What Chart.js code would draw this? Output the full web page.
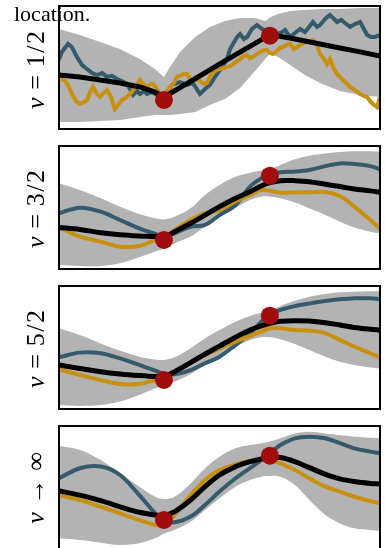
<!DOCTYPE html>
<html>
<head>
<meta charset="utf-8">
<script src="https://cdn.jsdelivr.net/npm/chart.js@4.4.1/dist/chart.umd.min.js"></script>
<style>
  html, body { margin: 0; padding: 0; background: #fff; overflow: hidden; }
  #wrap { position: relative; width: 385px; height: 548px; }
  canvas { position: absolute; left: 0; }
  .caption {
    position: absolute; left: 14px; top: 3px;
    font: 22px/22px "Liberation Serif", serif; color: #000; white-space: nowrap;
  }
  .ylab {
    position: absolute; left: 36px;
    font: 26px/26px "Liberation Serif", serif; color: #000; white-space: nowrap;
    transform: translate(-50%, -50%) rotate(-90deg);
  }
  .ylab .op { margin: 0 0.3em; }
  .ylab .sl { margin: 0 0.06em; }
</style>
</head>
<body>
<div id="wrap">
  <canvas id="nu12" width="385" height="135" style="top:0px"></canvas>
  <canvas id="nu32" width="385" height="135" style="top:140px"></canvas>
  <canvas id="nu52" width="385" height="135" style="top:280px"></canvas>
  <canvas id="nuInf" width="385" height="135" style="top:420px"></canvas>
  <div class="caption">location.</div>
  <div class="ylab" style="top:70px"><i>ν</i><span class="op">=</span>1<span class="sl">/</span>2</div>
  <div class="ylab" style="top:209px"><i>ν</i><span class="op">=</span>3<span class="sl">/</span>2</div>
  <div class="ylab" style="top:349px"><i>ν</i><span class="op">=</span>5<span class="sl">/</span>2</div>
  <div class="ylab" style="top:488px"><i>ν</i><span class="op">→</span>∞</div>
</div>
<script>
// observations (same in every panel)
const obsX = [0.327, 0.657]
const obsY = [-1.58, 1.55]

// shared x grid for the smooth kernels
const xGrid = [0, 0.065, 0.13, 0.19, 0.25, 0.30, 0.327, 0.36, 0.41, 0.455, 0.50, 0.55, 0.595, 0.63, 0.657, 0.69, 0.735, 0.78, 0.83, 0.875, 0.92, 0.97, 1]

// nu = 1/2 (rough samples, own grids)
const xBand12 = [0, 0.065, 0.128, 0.19, 0.252, 0.299, 0.327, 0.346, 0.377, 0.424, 0.47, 0.517, 0.564, 0.611, 0.642, 0.66, 0.682, 0.72, 0.766, 0.813, 0.875, 0.938, 1]
const mean12  = [-0.37, -0.46, -0.61, -0.76, -0.95, -1.20, -1.44, -1.27, -0.98, -0.55, -0.12, 0.32, 0.75, 1.18, 1.46, 1.63, 1.54, 1.44, 1.29, 1.15, 0.95, 0.76, 0.56]
const upper12 = [1.88, 1.59, 1.24, 0.90, 0.41, -0.07, -0.46, 0.02, 0.76, 1.49, 1.98, 2.27, 2.41, 2.41, 2.27, 2.46, 2.61, 2.76, 2.80, 2.85, 2.85, 2.90, 2.90]
const lower12 = [-2.66, -2.66, -2.61, -2.56, -2.41, -2.32, -2.32, -2.32, -2.27, -2.17, -1.83, -1.54, -1.00, -0.17, 0.41, 0.71, 0.51, 0.12, -0.37, -0.76, -1.15, -1.34, -1.44]
const blueX12 = [0, 0.009, 0.028, 0.040, 0.056, 0.072, 0.087, 0.103, 0.118, 0.134, 0.150, 0.165, 0.181, 0.196, 0.212, 0.221, 0.231, 0.243, 0.252, 0.265, 0.274, 0.290, 0.305, 0.321, 0.336, 0.352, 0.377, 0.399, 0.417, 0.439, 0.455, 0.470, 0.486, 0.508, 0.523, 0.533, 0.542, 0.555, 0.564, 0.576, 0.586, 0.601, 0.617, 0.632, 0.648, 0.664, 0.679, 0.695, 0.704, 0.720, 0.735, 0.751, 0.766, 0.779, 0.791, 0.804, 0.813, 0.829, 0.844, 0.857, 0.866, 0.879, 0.891, 0.907, 0.922, 0.938, 0.950, 0.960, 0.972, 0.984, 1]
const blue12  = [0.37, 0.76, 1.15, 1.00, 0.51, 0.12, -0.07, -0.27, -0.37, -0.27, -0.46, -0.41, -0.56, -0.66, -0.80, -1.05, -1.34, -1.15, -1.29, -1.15, -1.29, -1.20, -1.34, -1.44, -1.20, -0.85, -0.71, -0.85, -0.76, -1.29, -1.05, -0.85, -0.46, 0.02, 0.41, 0.90, 1.15, 1.49, 1.63, 1.39, 1.49, 1.88, 2.07, 1.88, 1.78, 1.68, 1.63, 1.73, 1.83, 1.49, 1.68, 1.88, 1.73, 1.98, 2.22, 1.98, 2.07, 2.37, 2.56, 2.37, 2.22, 2.32, 2.17, 1.98, 2.12, 2.22, 1.88, 1.59, 1.49, 1.49, 1.59]
const goldX12 = [0, 0.016, 0.028, 0.040, 0.053, 0.065, 0.078, 0.087, 0.097, 0.106, 0.118, 0.128, 0.140, 0.150, 0.162, 0.174, 0.184, 0.196, 0.212, 0.221, 0.231, 0.243, 0.252, 0.265, 0.274, 0.283, 0.293, 0.305, 0.321, 0.336, 0.346, 0.358, 0.368, 0.377, 0.389, 0.399, 0.408, 0.417, 0.430, 0.439, 0.452, 0.461, 0.470, 0.480, 0.492, 0.502, 0.514, 0.523, 0.533, 0.542, 0.555, 0.564, 0.576, 0.586, 0.595, 0.604, 0.617, 0.626, 0.639, 0.648, 0.657, 0.667, 0.679, 0.688, 0.698, 0.710, 0.720, 0.732, 0.741, 0.751, 0.763, 0.773, 0.782, 0.791, 0.804, 0.813, 0.826, 0.835, 0.844, 0.854, 0.866, 0.875, 0.885, 0.897, 0.907, 0.922, 0.938, 0.950, 0.960, 0.969, 0.978, 0.991, 1]
const gold12  = [-0.56, -0.61, -0.85, -1.29, -1.63, -1.78, -1.68, -1.59, -1.20, -0.95, -1.29, -1.44, -1.24, -1.10, -1.44, -2.02, -1.83, -1.59, -1.44, -1.29, -1.10, -0.85, -0.61, -0.85, -0.95, -0.85, -0.80, -1.05, -1.44, -1.20, -0.95, -0.76, -0.46, -0.41, -0.32, -0.32, -0.56, -0.61, -0.56, -0.66, -0.80, -0.76, -0.46, -0.22, -0.12, -0.07, -0.02, 0.02, 0.07, 0.17, 0.32, 0.41, 0.56, 0.61, 0.46, 0.51, 0.66, 0.76, 0.85, 0.85, 0.71, 0.66, 0.80, 0.95, 1.00, 1.10, 1.15, 0.90, 1.00, 1.10, 1.20, 1.24, 1.29, 1.34, 1.10, 0.66, 0.41, 0.17, 0.41, 0.02, -0.32, -0.46, -0.61, -0.80, -0.95, -1.10, -1.29, -1.39, -1.44, -1.63, -1.78, -1.93, -1.44]

// nu = 3/2
const mean32  = [-0.97, -1.07, -1.23, -1.33, -1.39, -1.42, -1.46, -1.18, -0.77, -0.37, 0.04, 0.45, 0.77, 1.05, 1.21, 1.31, 1.31, 1.26, 1.13, 1.02, 0.90, 0.81, 0.74]
const upper32 = [1.18, 0.85, 0.45, 0.04, -0.32, -0.53, -0.58, -0.45, -0.04, 0.61, 1.10, 1.50, 1.70, 1.80, 1.86, 2.07, 2.35, 2.53, 2.64, 2.71, 2.74, 2.74, 2.72]
const lower32 = [-2.81, -2.85, -2.85, -2.72, -2.43, -2.15, -1.99, -1.75, -1.42, -0.94, -0.48, -0.01, 0.37, 0.53, 0.53, 0.45, 0.24, -0.04, -0.37, -0.69, -0.97, -1.18, -1.26]
const blue32  = [-0.28, -0.01, -0.20, -0.61, -1.02, -1.29, -1.42, -1.26, -0.94, -0.85, -0.37, 0.12, 1.02, 1.42, 1.59, 1.72, 1.75, 1.83, 2.02, 2.15, 2.12, 2.02, 1.86]
const gold32  = [-0.97, -1.42, -1.67, -1.91, -1.88, -1.59, -1.50, -1.10, -0.61, -0.28, -0.12, 0.29, 0.61, 0.85, 0.82, 0.72, 0.74, 0.74, 0.76, 0.56, 0.04, -0.61, -1.02]

// nu = 5/2
const mean52  = [-0.85, -1.02, -1.18, -1.29, -1.37, -1.42, -1.42, -1.18, -0.74, -0.32, 0.07, 0.50, 0.85, 1.05, 1.18, 1.28, 1.31, 1.29, 1.21, 1.10, 0.98, 0.89, 0.85]
const upper52 = [0.94, 0.61, 0.20, -0.15, -0.45, -0.58, -0.61, -0.48, -0.04, 0.45, 0.85, 1.26, 1.54, 1.70, 1.80, 2.03, 2.28, 2.48, 2.61, 2.69, 2.72, 2.74, 2.74]
const lower52 = [-2.81, -2.85, -2.81, -2.64, -2.32, -1.99, -1.88, -1.67, -1.29, -0.85, -0.41, 0.04, 0.37, 0.50, 0.50, 0.40, 0.17, -0.12, -0.45, -0.69, -0.85, -0.97, -1.02]
const blue52  = [-0.48, -0.25, -0.28, -0.53, -0.85, -1.13, -1.29, -1.31, -1.10, -0.77, -0.45, 0.12, 0.69, 1.26, 1.59, 1.83, 2.02, 2.15, 2.27, 2.35, 2.40, 2.40, 2.37]
const gold52  = [-1.07, -1.34, -1.59, -1.78, -1.78, -1.59, -1.50, -1.18, -0.74, -0.37, -0.04, 0.29, 0.56, 0.77, 0.94, 0.94, 0.85, 0.82, 0.69, 0.37, 0.04, -0.28, -0.48]

// nu -> infinity
const meanInf  = [-0.17, -0.37, -0.64, -0.94, -1.21, -1.34, -1.37, -1.18, -0.61, 0.04, 0.61, 1.02, 1.26, 1.39, 1.46, 1.46, 1.26, 0.97, 0.64, 0.42, 0.29, 0.20, 0.17]
const upperInf = [2.04, 1.83, 1.34, 0.69, 0.04, -0.45, -0.56, -0.45, 0.20, 0.94, 1.50, 1.91, 2.07, 2.16, 2.24, 2.40, 2.64, 2.72, 2.64, 2.56, 2.48, 2.43, 2.40]
const lowerInf = [-2.48, -2.56, -2.69, -2.80, -2.72, -2.48, -2.24, -2.07, -1.67, -1.10, -0.53, 0.04, 0.37, 0.53, 0.56, 0.53, 0.12, -0.61, -1.34, -1.75, -1.99, -2.07, -2.12]
const blueInf  = [0.45, 0.94, 1.02, 0.61, -0.37, -1.26, -1.59, -1.70, -1.42, -0.85, -0.20, 0.45, 0.94, 1.34, 1.67, 2.07, 2.40, 2.48, 2.40, 2.16, 1.91, 1.75, 1.67]
const goldInf  = [-0.37, -0.61, -0.94, -1.26, -1.59, -1.83, -1.83, -1.34, -0.37, 0.37, 0.85, 1.13, 1.29, 1.34, 1.34, 1.18, 0.85, 0.45, 0.04, -0.20, -0.45, -0.66, -0.77]

const GREY = "#b3b3b3"
const BLUE = "#355a6c"
const GOLD = "#c8900f"
const RED = "#a10c0c"

const pts = (xs, ys) => xs.map((x, i) => ({ x: x, y: ys[i] }))

// black frame round the plot area
const frame = {
  id: "frame",
  afterDraw(chart) {
    const { ctx, chartArea: a } = chart
    ctx.save()
    ctx.strokeStyle = "#000"
    ctx.lineWidth = 2
    ctx.strokeRect(a.left, a.top, a.right - a.left, a.bottom - a.top)
    ctx.restore()
  }
}

function drawPanel(id, p) {
  const line = (data, color, width, order) => ({
    data: data, borderColor: color, borderWidth: width, pointRadius: 0,
    fill: false, tension: p.tension, order: order
  })
  new Chart(document.getElementById(id), {
    type: "line",
    data: {
      datasets: [
        { data: pts(p.bandX, p.upper), borderWidth: 0, pointRadius: 0, fill: "+1",
          backgroundColor: GREY, tension: p.tension, order: 5 },
        { data: pts(p.bandX, p.lower), borderWidth: 0, pointRadius: 0, fill: false,
          tension: p.tension, order: 5 },
        line(pts(p.blueX, p.blue), BLUE, 4, 3),
        line(pts(p.goldX, p.gold), GOLD, 4, 2),
        line(pts(p.bandX, p.mean), "#000", 5, 1),
        { data: pts(obsX, obsY), showLine: false, pointRadius: 9, pointBorderWidth: 0,
          pointBackgroundColor: RED, order: 0 }
      ]
    },
    options: {
      responsive: false,
      animation: false,
      events: [],
      // keep the plot box exactly where the padding puts it
      layout: { autoPadding: false, padding: { left: 59, right: 5, top: 6, bottom: 6 } },
      plugins: { legend: { display: false }, tooltip: { enabled: false } },
      scales: {
        x: { type: "linear", min: 0, max: 1, display: false },
        y: { min: -3, max: 3, display: false }
      }
    },
    plugins: [frame]
  })
}

drawPanel("nu12", { tension: 0, bandX: xBand12, mean: mean12, upper: upper12, lower: lower12,
  blueX: blueX12, blue: blue12, goldX: goldX12, gold: gold12 })
drawPanel("nu32", { tension: 0.35, bandX: xGrid, mean: mean32, upper: upper32, lower: lower32,
  blueX: xGrid, blue: blue32, goldX: xGrid, gold: gold32 })
drawPanel("nu52", { tension: 0.35, bandX: xGrid, mean: mean52, upper: upper52, lower: lower52,
  blueX: xGrid, blue: blue52, goldX: xGrid, gold: gold52 })
drawPanel("nuInf", { tension: 0.35, bandX: xGrid, mean: meanInf, upper: upperInf, lower: lowerInf,
  blueX: xGrid, blue: blueInf, goldX: xGrid, gold: goldInf })
</script>
</body>
</html>
